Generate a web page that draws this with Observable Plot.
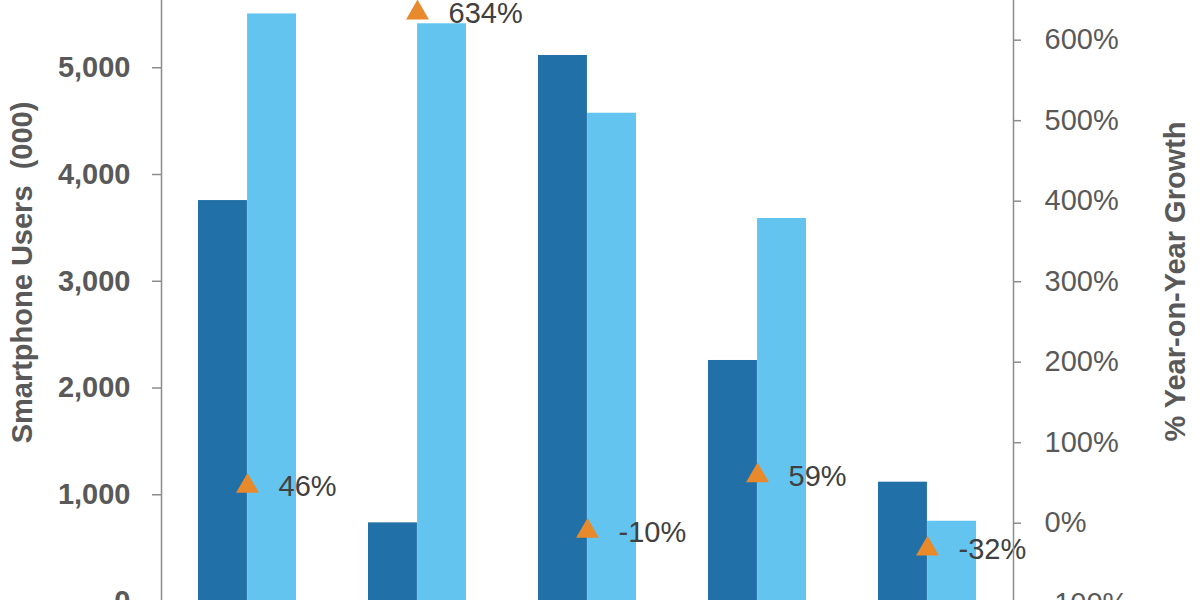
<!DOCTYPE html>
<html><head><meta charset="utf-8">
<script src="https://cdn.jsdelivr.net/npm/d3@7"></script>
<script src="https://cdn.jsdelivr.net/npm/@observablehq/plot@0.6"></script>
<style>
html,body{margin:0;padding:0;background:#fff;overflow:hidden;width:1200px;height:600px}
</style>
</head><body><div id="chart"></div>
<script>
// Data
const groups = ["Platform A", "Platform B", "Platform C", "Platform D", "Platform E"];
const usersPrev = [3756, 737, 5115, 2258, 1118];   // dark bars (000)
const usersCurr = [5504, 5412, 4574, 3588, 752];   // light bars (000)
const growth = [46, 634, -10, 59, -32];            // % year-on-year
const leftTicks = [0, 1000, 2000, 3000, 4000, 5000];
const rightTicks = [-100, 0, 100, 200, 300, 400, 500, 600];
const leftTitle = "Smartphone Users  (000)";
const rightTitle = "% Year-on-Year Growth";

// Styles / layout
const DARK = "#2171a8", LIGHT = "#64c4f0", ORANGE = "#e8892b";
const AXIS = "#8c8c8c", TICKTEXT = "#595959", LABELTEXT = "#404040";
const W = 1200, H = 660, mL = 161, mR = 187, mT = 0, mB = 20;
const padIn = 0.4235, padOut = 0.214;
const step = (W - mL - mR) / (groups.length - padIn + 2 * padOut);
const half = step * (1 - padIn) / 2;

// secondary axis mapping: growth % -> users scale
const g2u = d3.scaleLinear([-97.3, 649.3], [0, 5630]);

const rows = groups.map((g, i) => ({group: g, prev: usersPrev[i], curr: usersCurr[i], growth: growth[i]}));

const chart = Plot.plot({
  width: W, height: H,
  marginLeft: mL, marginRight: mR, marginTop: mT, marginBottom: mB,
  style: {fontFamily: "'Liberation Sans', Arial, sans-serif", background: "#fff"},
  x: {type: "band", domain: groups, paddingInner: padIn, paddingOuter: padOut, axis: null},
  y: {domain: [-365, 5630], axis: null},
  marks: [
    Plot.barY(rows, {x: "group", y: "prev", fill: DARK, insetRight: half}),
    Plot.barY(rows, {x: "group", y: "curr", fill: LIGHT, insetLeft: half}),
    Plot.dot(rows, {x: "group", y: d => g2u(d.growth), symbol: "triangle", r: 8.5, fill: ORANGE, stroke: null}),
    Plot.text(rows, {x: "group", y: d => g2u(d.growth), text: d => d.growth + "%", dx: 31, dy: 1, textAnchor: "start", fontSize: 29, fill: LABELTEXT}),
    Plot.frame({anchor: "left", stroke: AXIS, strokeWidth: 1.5}),
    Plot.frame({anchor: "right", stroke: AXIS, strokeWidth: 1.5}),
    Plot.axisY(leftTicks, {anchor: "left", tickFormat: d3.format(","), tickSize: 9, tickPadding: 22,
      fontSize: 29, fontWeight: "bold", fill: TICKTEXT, stroke: AXIS, strokeWidth: 1.5, label: null}),
    Plot.axisY(rightTicks.map(g => g2u(g)), {anchor: "right", tickFormat: d => Math.round(g2u.invert(d)) + "%",
      tickSize: 7, tickPadding: 24, fontSize: 29, fill: TICKTEXT, stroke: AXIS, strokeWidth: 1.5, label: null}),
    Plot.text([leftTitle], {text: d => d, frameAnchor: "left", textAnchor: "middle", rotate: -90, dx: -139, dy: -48,
      fontSize: 29, fontWeight: "bold", fill: TICKTEXT}),
    Plot.text([rightTitle], {text: d => d, frameAnchor: "right", textAnchor: "middle", rotate: -90, dx: 162, dy: -39,
      fontSize: 29, fontWeight: "bold", fill: TICKTEXT})
  ]
});
document.getElementById("chart").appendChild(chart);
</script>
</body></html>
